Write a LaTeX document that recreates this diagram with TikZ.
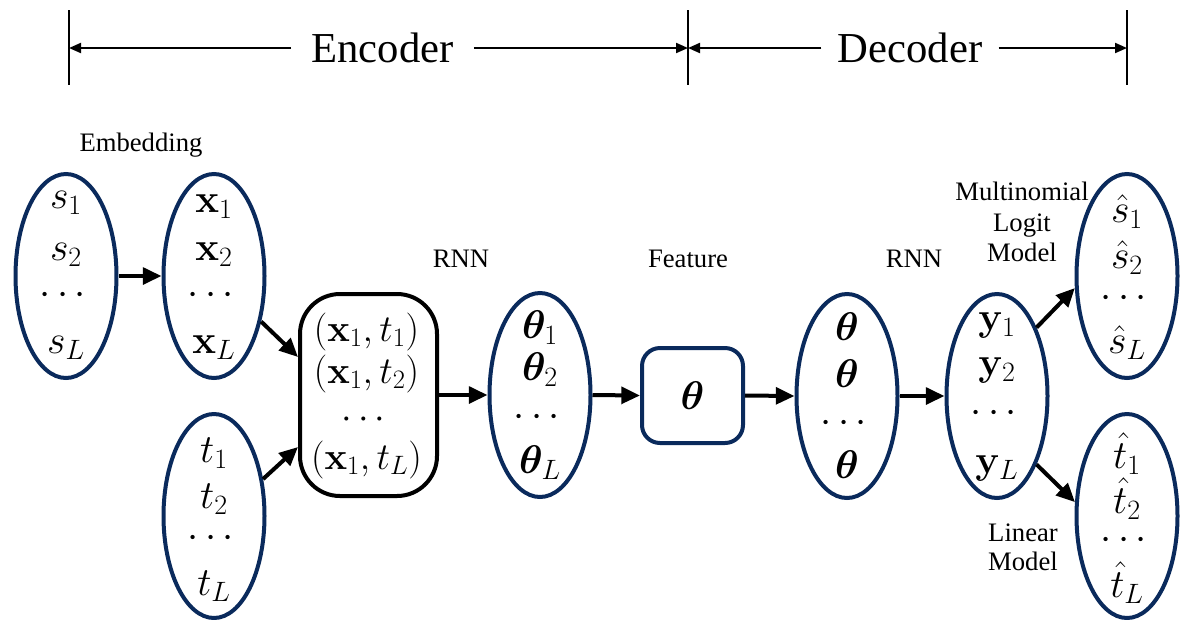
\RequirePackage{fix-cm}
\documentclass[tikz,border=0pt]{standalone}
\usepackage{amsmath,bm}
\usepackage[no-math]{fontspec}
\setmainfont{Liberation Serif}
\usetikzlibrary{shapes.geometric,arrows.meta,calc}
\definecolor{navy}{HTML}{0A2A5C}
\begin{document}
\begin{tikzpicture}[x=0.75pt,y=-0.75pt,
  ell/.style={draw=navy,line width=3pt,ellipse,minimum width=75.75pt,minimum height=153pt,inner sep=0pt},
  arr/.style={line width=3pt,-{Triangle[length=14pt,width=12.5pt]}},
  bar/.style={line width=1.5pt},
  bararr/.style={bar,-{Triangle[length=9pt,width=7.5pt]}},
  lab/.style={font=\fontsize{20}{23}\selectfont,inner sep=0pt,align=center},
  big/.style={font=\fontsize{32}{38}\selectfont,inner ysep=0pt},
  mt/.style={font=\fontsize{30}{36}\selectfont,inner sep=0pt,anchor=base},
  mtb/.style={mt,font=\fontsize{28.5}{34}\selectfont}]
\useasboundingbox (0,0) rectangle (1181,619);

% top bar
\coordinate (V1t) at (69,10);  \coordinate (V1b) at (69,85);
\coordinate (V2t) at (688,10); \coordinate (V2b) at (688,85);
\coordinate (V3t) at (1127,10); \coordinate (V3b) at (1127,85);
\coordinate (L1) at (69,48); \coordinate (M1) at (688,48); \coordinate (R1) at (1127,48);
\draw[bar] (V1t) -- (V1b);
\draw[bar] (V2t) -- (V2b);
\draw[bar] (V3t) -- (V3b);
\node[big,inner xsep=15pt] (enc) at (382.5,48) {Encoder};
\node[big,inner xsep=12pt] (dec) at (910,48) {Decoder};
\draw[bararr] (enc.west) -- (L1);
\draw[bararr] (enc.east) -- (M1);
\draw[bararr] (dec.west) -- (M1);
\draw[bararr] (dec.east) -- (R1);

% ellipses and boxes
\node[ell] (s) at (66,276) {};
\node[ell] (x) at (214,276) {};
\node[ell] (t) at (214,516) {};
\node[draw=black,line width=3pt,rounded corners=30pt,minimum width=102.75pt,minimum height=151.5pt,inner sep=0pt] (bx) at (368.5,395) {};
\node[ell] (th) at (540,395) {};
\node[draw=navy,line width=3pt,rounded corners=13.5pt,minimum width=75.75pt,minimum height=71.25pt,inner sep=0pt,font=\fontsize{30}{36}\selectfont] (fb) at (692.5,395.5) {$\boldsymbol{\theta}$};
\node[ell] (tt) at (847,396) {};
\node[ell] (y) at (997,396) {};
\node[ell] (sh) at (1127,276) {};
\node[ell] (thh) at (1127,516) {};

% contents
\node[mt] (s1) at ($(s)+(0,-68)$) {$s_1$};
\node[mt] (s2) at ($(s)+(0,-16)$) {$s_2$};
\node[mt] (s3) at ($(s)+(0,28)$) {$\cdots$};
\node[mt] (s4) at ($(s)+(0,77)$) {$s_L$};

\node[mt] (x1) at ($(x)+(0,-64)$) {$\mathbf{x}_1$};
\node[mt] (x2) at ($(x)+(0,-16)$) {$\mathbf{x}_2$};
\node[mt] (x3) at ($(x)+(0,28)$) {$\cdots$};
\node[mt] (x4) at ($(x)+(0,77)$) {$\mathbf{x}_L$};

\node[mt] (t1) at ($(t)+(0,-54)$) {$t_1$};
\node[mt] (t2) at ($(t)+(0,-8)$) {$t_2$};
\node[mt] (t3) at ($(t)+(0,31)$) {$\cdots$};
\node[mt] (t4) at ($(t)+(0,79)$) {$t_L$};

\node[mtb] (b1) at ($(bx)+(-2,-54)$) {$(\mathbf{x}_1,t_1)$};
\node[mtb] (b2) at ($(bx)+(-2,-12)$) {$(\mathbf{x}_1,t_2)$};
\node[mtb] (b3) at ($(bx)+(-2,33)$) {$\cdots$};
\node[mtb] (b4) at ($(bx)+(-2,74)$) {$(\mathbf{x}_1,t_L)$};

\node[mt] (th1) at ($(th)+(0,-57)$) {$\boldsymbol{\theta}_1$};
\node[mt] (th2) at ($(th)+(0,-15)$) {$\boldsymbol{\theta}_2$};
\node[mt] (th3) at ($(th)+(0,31)$) {$\cdots$};
\node[mt] (th4) at ($(th)+(0,78)$) {$\boldsymbol{\theta}_L$};

\node[mt] (tt1) at ($(tt)+(0,-56)$) {$\boldsymbol{\theta}$};
\node[mt] (tt2) at ($(tt)+(0,-9)$) {$\boldsymbol{\theta}$};
\node[mt] (tt3) at ($(tt)+(0,36)$) {$\cdots$};
\node[mt] (tt4) at ($(tt)+(0,82)$) {$\boldsymbol{\theta}$};

\node[mt] (y1) at ($(y)+(0,-66)$) {$\mathbf{y}_1$};
\node[mt] (y2) at ($(y)+(0,-21)$) {$\mathbf{y}_2$};
\node[mt] (y3) at ($(y)+(0,26)$) {$\cdots$};
\node[mt] (y4) at ($(y)+(0,77)$) {$\mathbf{y}_L$};

\node[mt] (sh1) at ($(sh)+(0,-54)$) {$\hat{s}_1$};
\node[mt] (sh2) at ($(sh)+(0,-8)$) {$\hat{s}_2$};
\node[mt] (sh3) at ($(sh)+(0,31)$) {$\cdots$};
\node[mt] (sh4) at ($(sh)+(0,77)$) {$\hat{s}_L$};

\node[mt] (thh1) at ($(thh)+(0,-48)$) {$\hat{t}_1$};
\node[mt] (thh2) at ($(thh)+(0,-3)$) {$\hat{t}_2$};
\node[mt] (thh3) at ($(thh)+(0,33)$) {$\cdots$};
\node[mt] (thh4) at ($(thh)+(0,81)$) {$\hat{t}_L$};

% labels
\node[lab] (emb) at (141,145) {Embedding};
\node[lab] (rnn1) at (461,259) {RNN};
\node[lab] (feat) at (688,259) {Feature};
\node[lab] (rnn2) at (914,259) {RNN};
\node[lab,font=\fontsize{20}{23}\selectfont] (mlm) at (1022,222) {Multinomial\\Logit\\Model};
\node[lab,font=\fontsize{20}{22}\selectfont] (lin) at (1023,547) {Linear\\Model};

% arrows
\draw[arr] (s.east) -- (x.west);
\draw[arr] (x.-44) -- ($(bx.west)+(0,-38)$);
\draw[arr] (t.37) -- ($(bx.west)+(0,52)$);
\draw[arr] (bx.east) -- (th.west);
\draw[arr] (th.east) -- (fb.west);
\draw[arr] (fb.east) -- (tt.west);
\draw[arr] (tt.east) -- (y.west);
\draw[arr] (y.60) -- (sh.193);
\draw[arr] (y.-60) -- (thh.165);
\end{tikzpicture}
\end{document}
